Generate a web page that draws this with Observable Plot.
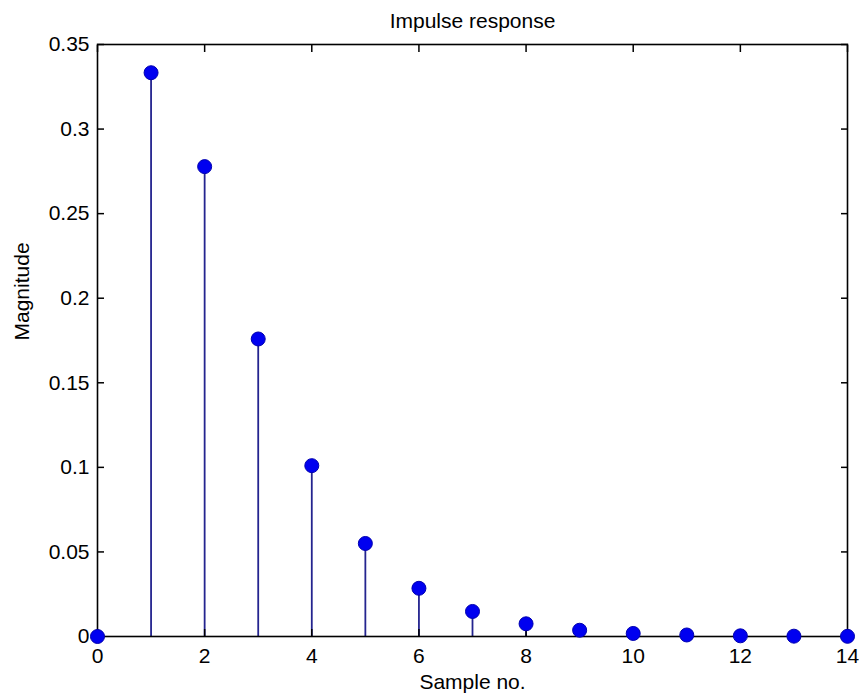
<!DOCTYPE html>
<html>
<head>
<meta charset="utf-8">
<script src="https://cdn.jsdelivr.net/npm/d3@7"></script>
<script src="https://cdn.jsdelivr.net/npm/@observablehq/plot@0.6"></script>
<style>
  html, body { margin: 0; padding: 0; background: #fff; }
  svg { display: block; }
</style>
</head>
<body>
<div id="chart"></div>
<script>
const samples = [0, 1, 2, 3, 4, 5, 6, 7, 8, 9, 10, 11, 12, 13, 14];
const magnitudes = [0, 0.3333, 0.2778, 0.1759, 0.1010, 0.0550, 0.0285, 0.0148, 0.0075, 0.0037, 0.0018, 0.0009, 0.0004, 0.0002, 0.0001];
const xTicks = [0, 2, 4, 6, 8, 10, 12, 14];
const yTicks = [0, 0.05, 0.1, 0.15, 0.2, 0.25, 0.3, 0.35];
const titleText = "Impulse response";
const xLabel = "Sample no.";
const yLabel = "Magnitude";

const data = samples.map((s, i) => ({x: s, y: magnitudes[i]}));
const fmt = d => String(+d.toFixed(2));

const chart = Plot.plot({
  width: 859,
  height: 698,
  marginLeft: 97,
  marginRight: 12,
  marginTop: 44,
  marginBottom: 62,
  style: {fontFamily: "'Liberation Sans', Arial, sans-serif", fontSize: "21px", color: "#000", background: "#fff"},
  x: {domain: [0, 14]},
  y: {domain: [0, 0.35]},
  marks: [
    Plot.ruleX(data, {x: "x", y1: 0, y2: "y", stroke: "#24248f", strokeWidth: 1.8}),
    Plot.frame({stroke: "#000", strokeWidth: 1.6}),
    Plot.axisX({anchor: "bottom", ticks: xTicks, tickSize: -7, tickPadding: 19, tickFormat: fmt, label: null, fontSize: 21, strokeWidth: 1.5}),
    Plot.axisX({anchor: "top", ticks: xTicks, tickSize: -7, tickFormat: () => "", label: null, strokeWidth: 1.5}),
    Plot.axisY({anchor: "left", ticks: yTicks, tickSize: -7, tickPadding: 15, tickFormat: fmt, label: null, fontSize: 21, strokeWidth: 1.5}),
    Plot.axisY({anchor: "right", ticks: yTicks, tickSize: -7, tickFormat: () => "", label: null, strokeWidth: 1.5}),
    Plot.dot(data, {x: "x", y: "y", r: 7, fill: "#0000f0", stroke: "#0000b0", strokeWidth: 1}),
    Plot.text([titleText], {frameAnchor: "top", dy: -23, lineAnchor: "middle", fontSize: 21}),
    Plot.text([xLabel], {frameAnchor: "bottom", dy: 46, lineAnchor: "middle", fontSize: 21}),
    Plot.text([yLabel], {frameAnchor: "left", dx: -75, rotate: -90, lineAnchor: "middle", fontSize: 21})
  ]
});
document.getElementById("chart").appendChild(chart);
</script>
</body>
</html>
